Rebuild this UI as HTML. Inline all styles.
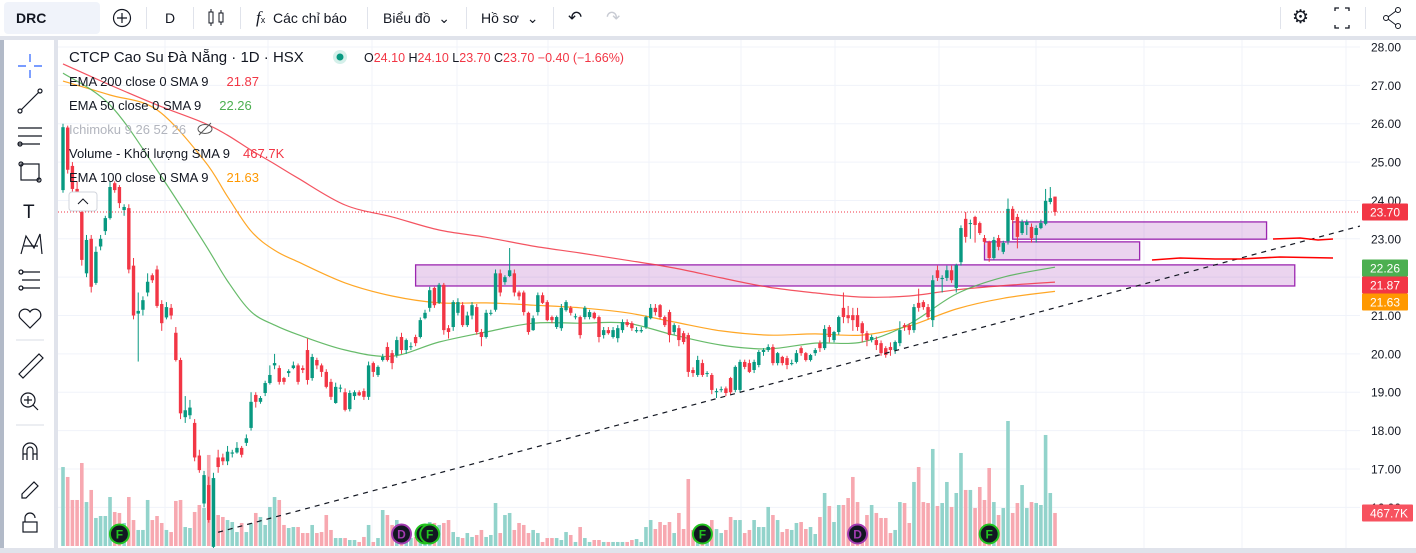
<!DOCTYPE html>
<html><head><meta charset="utf-8"><style>
html,body{margin:0;padding:0;width:1416px;height:548px;overflow:hidden;background:#e0e3eb;font-family:"Liberation Sans","Noto Sans CJK SC",sans-serif;}
#top{position:absolute;left:0;top:0;width:1416px;height:36px;background:#fff;}
#left{position:absolute;left:4px;top:40px;width:50px;height:508px;background:#fff;}
#leftstrip{position:absolute;left:0;top:40px;width:4px;height:508px;background:#b2bac8;}
.tb{position:absolute;top:0;height:36px;line-height:36px;font-size:14px;color:#131722;}
.sep{position:absolute;top:7px;width:1px;height:22px;background:#e0e3eb;}
svg text{font-family:"Liberation Sans","Noto Sans CJK SC",sans-serif;}
</style></head><body>
<div id="top">
 <div class="tb" style="left:4px;top:2px;height:32px;line-height:32px;width:96px;background:#f0f3fa;border-radius:4px;font-weight:bold;padding-left:12px;box-sizing:border-box;">DRC</div>
 <div class="tb" style="left:112px;"><svg width="20" height="36"><circle cx="10" cy="18" r="8.5" fill="none" stroke="#131722" stroke-width="1.2"/><path d="M10 13v10M5 18h10" stroke="#131722" stroke-width="1.2"/></svg></div>
 <div class="sep" style="left:146px"></div>
 <div class="tb" style="left:165px;">D</div>
 <div class="sep" style="left:193px"></div>
 <div class="tb" style="left:206px;"><svg width="20" height="36"><rect x="3" y="12" width="4" height="11" fill="none" stroke="#131722"/><path d="M5 9v3M5 23v3M15 10v3M15 22v3" stroke="#131722"/><rect x="13" y="13" width="4" height="9" fill="none" stroke="#131722"/></svg></div>
 <div class="sep" style="left:240px"></div>
 <div class="tb" style="left:256px;"><span style="font-style:italic;font-family:'Liberation Serif',serif;font-size:17px">f</span><span style="font-size:9px">x</span>&nbsp; Các chỉ báo</div>
 <div class="sep" style="left:367px"></div>
 <div class="tb" style="left:383px;">Biểu đồ &nbsp;⌄</div>
 <div class="sep" style="left:466px"></div>
 <div class="tb" style="left:481px;">Hồ sơ &nbsp;⌄</div>
 <div class="sep" style="left:553px"></div>
 <div class="tb" style="left:568px;font-size:17px">↶</div>
 <div class="tb" style="left:606px;font-size:17px;color:#c8cbd3">↷</div>
 <div class="sep" style="left:1280px"></div>
 <div class="tb" style="left:1292px;font-size:19px">⚙</div>
 <div class="tb" style="left:1332px;"><svg width="20" height="36"><path d="M3 11v-3h4M13 8h4v3M17 25v3h-4M7 28h-4v-3" fill="none" stroke="#131722" stroke-width="1.3"/></svg></div>
 <div class="sep" style="left:1365px"></div>
 <div class="tb" style="left:1382px;"><svg width="20" height="36"><circle cx="16" cy="10" r="2.5" fill="none" stroke="#131722"/><circle cx="4" cy="18" r="2.5" fill="none" stroke="#131722"/><circle cx="16" cy="26" r="2.5" fill="none" stroke="#131722"/><path d="M6 17l8-6M6 19l8 6" stroke="#131722"/></svg></div>
</div>
<div id="leftstrip"></div>
<div id="left">
<svg width="50" height="508" stroke="#131722" fill="none" stroke-width="1.2">
 <g stroke="#2962ff"><path d="M26 14v8M26 30v8M14 26h8M30 26h8"/></g>
 <g><path d="M17 70l18-18"/><circle cx="16" cy="71" r="2"/><circle cx="36" cy="51" r="2"/></g>
 <g><path d="M14 88h24M14 96h24M14 104h22"/><circle cx="16" cy="104" r="2"/></g>
 <g><rect x="17" y="124" width="18" height="16"/><circle cx="17" cy="124" r="2"/><circle cx="35" cy="140" r="2"/></g>
 <text x="19" y="178" font-size="19" fill="#131722" stroke="none" font-family="Liberation Serif">T</text>
 <g><path d="M17 214l5-18 8 12 6-14 2 20M20 206l14 0"/></g>
 <g><path d="M18 232h18M18 240h18M18 248h18"/><circle cx="17" cy="232" r="2"/><circle cx="17" cy="248" r="2"/></g>
 <path d="M26 288l-10-10a5 5 0 0 1 10-6 5 5 0 0 1 10 6z"/>
 <path d="M12 300h28" stroke="#e0e3eb"/>
 <g><path d="M15 334l20-20 4 4-20 20z"/></g>
 <g><circle cx="24" cy="360" r="7"/><path d="M29 365l5 5M24 356v8M20 360h8"/></g>
 <path d="M12 385h28" stroke="#e0e3eb"/>
 <path d="M19 420v-10a7 7 0 0 1 14 0v10M19 414h4M29 414h4M23 420v-10a3 3 0 0 1 6 0v10"/>
 <path d="M18 454l12-12 4 4-12 12h-4z"/>
 <g><rect x="19" y="482" width="14" height="10"/><path d="M21 482v-4a5 5 0 0 1 10 0"/></g>
</svg></div>
<svg id="chart" width="1416" height="548" style="position:absolute;left:0;top:0">
 <rect x="58" y="40" width="1358" height="508" fill="#fff"/>
 <g id="grid"></g>
 <g id="vol"></g>
 <g id="boxes"></g>
 <g id="emas"></g>
 <g id="candles"></g>
 <g id="overlay"></g>
 <g id="axis"></g>
</svg>
<script>
const openP=[24.27,25.9,24.9,24.3,23.7,22.1,23.0,21.85,22.8,23.2,23.54,24.45,24.35,23.75,23.8,22.3,21.05,21.15,21.6,22.05,22.2,21.3,20.95,21.2,20.55,19.84,18.35,18.4,18.2,17.35,16.1,16.58,14.97,17.3,17.3,17.2,17.4,17.43,17.55,17.68,18.07,18.93,18.75,18.98,19.24,19.7,19.63,19.37,19.5,19.63,19.7,19.63,20.1,19.37,19.84,19.7,19.53,19.27,18.72,19.1,19.0,18.56,18.9,19.0,19.03,18.88,19.76,19.45,19.84,20.18,20.02,19.97,20.44,20.1,20.18,20.44,20.44,20.93,21.2,21.72,21.33,21.8,20.67,20.7,21.07,21.27,20.75,21.0,21.22,20.57,20.44,21.05,21.15,22.1,21.87,22.03,22.1,21.6,21.6,21.07,20.62,
21.09,21.53,21.35,20.96,20.7,20.67,21.14,21.2,20.96,20.96,20.96,20.96,21.07,20.96,20.49,20.62,20.44,20.41,20.62,20.83,20.8,20.59,20.59,20.7,20.93,21.2,21.27,20.96,21.09,20.57,20.67,20.54,20.49,19.58,19.45,19.76,19.48,19.45,19.0,19.06,19.1,19.37,19.06,19.06,19.79,19.76,19.58,19.71,20.05,20.1,20.18,19.76,19.92,19.89,19.74,19.79,20.15,20.02,19.84,20.02,20.28,20.15,20.7,20.36,20.57,21.2,21.01,21.01,21.01,20.8,20.54,20.36,20.36,20.28,20.15,20.18,20.1,20.28,20.75,20.75,20.62,21.33,21.35,21.22,20.88,22.18,21.95,21.98,22.18,21.72,22.39,23.52,23.39,23.57,23.41,23.02,22.92,22.5,23.02,22.66,22.94,23.78,23.57,23.15,23.36,23.31,23.1,23.28,23.39,23.96,24.1];
const closeP=[25.91,24.8,24.3,24.1,22.45,22.97,21.75,22.66,23.0,23.54,24.35,24.27,23.93,23.83,22.2,21.0,21.12,21.4,21.88,21.92,21.25,20.8,21.22,21.0,19.84,18.45,18.53,18.6,17.3,16.97,16.84,15.67,16.76,17.05,17.2,17.45,17.43,17.55,17.37,17.8,18.75,18.75,18.85,19.24,19.45,19.76,19.27,19.27,19.55,19.7,19.27,19.58,19.32,19.92,19.7,19.53,19.14,18.88,19.14,19.12,18.54,18.98,19.0,18.92,18.88,19.7,19.53,19.66,19.92,19.84,19.76,20.36,20.1,20.36,20.2,20.28,20.88,21.07,21.66,21.27,21.8,20.62,20.57,21.35,21.35,20.75,21.0,21.27,20.57,20.44,21.07,21.07,22.1,21.6,22.0,22.18,21.6,21.5,21.09,20.57,20.93,
21.53,21.33,20.88,20.88,20.96,21.2,21.35,21.07,20.98,20.49,21.2,21.09,20.93,20.44,20.62,20.54,20.62,20.67,20.83,20.75,20.67,20.62,20.62,20.96,21.2,21.09,20.96,20.75,20.49,20.75,20.36,20.31,19.53,19.5,19.84,19.45,19.5,19.06,19.03,19.08,18.98,19.0,19.66,19.79,19.66,19.53,19.79,20.05,20.1,20.18,19.76,20.02,19.76,19.71,19.76,20.02,20.02,19.84,19.97,20.1,20.15,20.65,20.44,20.57,20.96,20.96,20.93,20.88,20.7,20.54,20.36,20.44,20.23,20.02,19.97,20.1,20.31,20.62,20.7,20.62,21.22,21.2,21.22,20.96,21.92,21.98,21.98,22.18,21.92,22.31,23.28,23.05,23.41,23.36,23.15,22.92,22.5,22.97,22.79,22.89,23.78,23.49,23.05,23.44,23.44,23.02,23.28,23.41,23.99,24.06,23.7];
const highP=[26.0,25.95,25.0,24.5,23.8,23.1,23.1,22.8,23.1,23.6,24.5,24.5,24.4,23.9,23.9,22.5,21.6,21.5,22.1,22.1,22.3,21.4,21.35,21.3,20.7,19.9,18.9,18.8,18.3,17.5,16.95,16.8,16.9,17.5,17.4,17.6,17.5,17.7,17.6,17.9,19.0,19.0,18.9,19.3,19.7,20.0,19.7,19.4,19.6,19.8,19.75,19.7,20.4,20.0,19.9,19.75,19.6,19.35,19.25,19.2,19.1,19.05,19.05,19.05,19.1,19.8,19.8,19.7,20.0,20.3,20.1,20.45,20.55,20.4,20.3,20.5,20.95,21.15,21.75,21.75,21.85,21.85,20.75,21.4,21.45,21.35,21.1,21.35,21.3,20.65,21.15,21.15,22.2,22.2,22.05,22.76,22.2,21.65,21.65,21.1,21.0,
21.6,21.6,21.4,21.0,21.0,21.3,21.4,21.25,21.05,21.0,21.25,21.15,21.1,21.0,20.7,20.7,20.7,20.75,20.9,20.9,20.85,20.7,20.7,21.0,21.3,21.3,21.3,21.0,21.15,20.8,20.75,20.6,20.55,19.65,19.95,19.85,19.55,19.5,19.1,19.15,19.15,19.4,19.7,19.85,19.85,19.85,19.85,20.1,20.15,20.25,20.25,20.05,19.95,19.95,19.85,20.1,20.2,20.05,20.0,20.15,20.35,20.75,20.75,20.6,21.0,21.6,21.25,21.2,21.2,20.85,20.6,20.5,20.45,20.35,20.2,20.3,20.35,20.85,20.8,20.8,21.3,21.7,21.4,21.3,22.05,22.3,22.05,22.3,22.3,22.35,23.35,23.7,23.5,23.6,23.45,23.1,22.95,23.05,23.1,22.95,24.05,23.85,23.65,23.5,23.5,23.4,23.35,23.5,24.3,24.35,24.1];
const lowP=[24.2,24.7,24.2,23.9,22.3,22.0,21.6,21.8,22.7,23.1,23.5,24.2,23.8,23.6,22.1,20.9,19.8,21.0,21.5,21.85,21.2,20.6,20.9,20.9,19.8,18.3,18.2,18.3,17.2,16.9,16.0,15.6,14.9,16.9,17.1,17.1,17.3,17.4,17.3,17.6,18.0,18.6,18.7,18.9,19.2,19.6,19.2,19.2,19.4,19.6,19.2,19.5,19.2,19.3,19.6,19.4,19.1,18.8,18.7,19.0,18.5,18.5,18.8,18.9,18.8,18.8,19.4,19.4,19.8,19.8,19.6,19.9,20.0,20.0,20.1,20.2,20.4,20.9,21.1,21.2,21.3,20.5,20.4,20.6,21.0,20.7,20.7,20.9,20.5,20.2,20.4,21.0,21.1,21.5,21.8,22.0,21.5,21.4,21.0,20.5,20.6,
21.0,21.3,20.85,20.8,20.65,20.6,21.1,21.0,20.9,20.4,20.9,20.9,20.9,20.3,20.4,20.5,20.4,20.3,20.55,20.7,20.6,20.55,20.55,20.65,20.9,21.0,20.9,20.7,20.3,20.5,20.2,20.25,19.4,19.4,19.4,19.4,19.4,18.95,18.85,19.0,18.9,18.95,19.0,19.0,19.6,19.5,19.5,19.65,19.95,20.05,19.7,19.7,19.7,19.6,19.7,19.75,19.95,19.8,19.8,19.95,20.05,20.1,20.3,20.3,20.5,20.8,20.8,20.6,20.6,20.3,20.2,20.3,20.1,19.95,19.9,19.95,20.0,20.2,20.6,20.5,20.55,21.1,21.15,20.9,20.7,21.9,21.6,21.9,21.85,21.6,22.3,22.9,23.0,22.9,23.1,22.85,22.4,22.45,22.7,22.6,22.85,23.4,22.75,23.1,23.1,22.9,22.9,23.25,23.35,23.9,23.6];
const volumeK=[1119,978,652,652,1176,623,794,397,425,425,694,482,468,326,694,368,227,227,652,368,425,326,227,198,638,652,269,255,482,581,538,1290,964,439,411,368,340,198,326,198,326,468,411,298,553,694,652,298,255,269,269,184,184,298,184,198,439,227,113,113,113,85,85,57,128,298,57,113,510,439,298,368,198,156,113,128,255,156,340,326,298,326,368,198,128,113,184,128,156,227,128,156,609,184,439,468,227,326,298,184,227,
184,57,113,113,113,85,198,156,57,269,113,57,85,85,57,57,57,57,57,57,85,99,57,269,368,241,340,298,340,184,468,241,949,227,241,269,184,368,241,184,227,411,368,368,184,227,368,269,269,553,439,368,198,241,227,326,340,241,269,170,411,751,567,340,581,581,680,978,623,227,439,581,468,397,397,184,227,623,609,326,907,1119,623,609,1375,567,609,907,553,751,1318,794,794,538,836,652,1105,623,439,538,1771,468,609,864,538,623,609,581,1573,751,468];
const emaIdx=[0,10,20,30,35,40,45,50,60,70,80,90,100,110,120,130,140,150,160,170,180,190,200,211];
const ema200=[27.56,27.01,26.49,26.02,25.7,25.31,24.95,24.58,23.88,23.57,23.23,23.04,22.81,22.63,22.44,22.24,21.98,21.74,21.59,21.48,21.51,21.67,21.78,21.87];
const ema100=[27.11,26.75,26.36,25.05,24.1,23.2,22.7,22.4,21.85,21.51,21.33,21.33,21.27,21.2,21.07,20.83,20.6,20.49,20.52,20.49,20.73,21.17,21.45,21.63];
const ema50=[27.32,26.49,24.79,22.9,21.9,21.1,20.75,20.5,20.1,19.94,20.31,20.57,20.8,20.8,20.8,20.49,20.23,20.13,20.28,20.31,20.78,21.56,22.0,22.26];
const priceTicks=[28,27,26,25,24,23,21,20,19,18,17,16];
const boxes=[{i0:75,i1:262,top:22.32,bot:21.77},{i0:196,i1:229,top:22.92,bot:22.45},{i0:202,i1:256,top:23.44,bot:22.99}];
const events=[{i:12,t:"F"},{i:72,t:"D"},{i:77,t:"F"},{i:78,t:"F"},{i:136,t:"F"},{i:169,t:"D"},{i:197,t:"F"}];
const trendA={i:33,p:15.35}, trendB={i:211,p:21.2};

const NS="http://www.w3.org/2000/svg";
const X0=63, DX=(1055-63)/211;
function xOf(i){return X0+i*DX;}
function yOf(p){return 47+(28-p)*38.36;}
const VBASE=546, VMAX=1771, VH=125;
function vh(v){return v/VMAX*VH;}
function mk(parent,tag,attrs){const e=document.createElementNS(NS,tag);for(const k in attrs)e.setAttribute(k,attrs[k]);parent.appendChild(e);return e;}
const G=id=>document.getElementById(id);
const vgx=[165,268,372,457,548,649,741,835,939,1036,1144,1242,1346];
vgx.forEach(x=>mk(G('grid'),'line',{x1:x,x2:x,y1:40,y2:548,stroke:'#f0f3fa'}));
priceTicks.forEach(p=>mk(G('grid'),'line',{x1:58,x2:1360,y1:yOf(p),y2:yOf(p),stroke:'#f0f3fa'}));
mk(G('grid'),'line',{x1:58,x2:1360,y1:yOf(22),y2:yOf(22),stroke:'#f0f3fa'});
volumeK.forEach((v,i)=>{
 const up=closeP[i]>=openP[i];
 const r=mk(G('vol'),'rect',{x:xOf(i)-1.8,y:VBASE-vh(v),width:3.6,height:vh(v),fill:up?'#92d3cb':'#f7a8b0'});
 
 
});
boxes.forEach(b=>{
 const r=mk(G('boxes'),'rect',{x:xOf(b.i0),y:yOf(b.top),width:xOf(b.i1)-xOf(b.i0),height:yOf(b.bot)-yOf(b.top),fill:'rgba(156,39,176,0.2)',stroke:'#9c27b0','stroke-width':1.3});
 
 
});
function smoothPath(pts){
 let d='M'+pts[0][0].toFixed(1)+' '+pts[0][1].toFixed(1);
 for(let k=0;k<pts.length-1;k++){
  const p0=pts[Math.max(k-1,0)],p1=pts[k],p2=pts[k+1],p3=pts[Math.min(k+2,pts.length-1)];
  const c1=[p1[0]+(p2[0]-p0[0])/6,p1[1]+(p2[1]-p0[1])/6],c2=[p2[0]-(p3[0]-p1[0])/6,p2[1]-(p3[1]-p1[1])/6];
  d+='C'+c1[0].toFixed(1)+' '+c1[1].toFixed(1)+' '+c2[0].toFixed(1)+' '+c2[1].toFixed(1)+' '+p2[0].toFixed(1)+' '+p2[1].toFixed(1);
 }
 return d;
}
[[ema200,'#f23645','ema-200-line'],[ema100,'#ff9800','ema-100-line'],[ema50,'#4caf50','ema-50-line']].forEach(([arr,col,nm])=>{
 const pts=arr.map((p,k)=>[xOf(emaIdx[k]),yOf(p)]);
 const pth=mk(G('emas'),'path',{d:smoothPath(pts),fill:'none',stroke:col,'stroke-width':1.2,'stroke-opacity':0.85});
 
 
});
closeP.forEach((c,i)=>{
 const o=openP[i],h=highP[i],l=lowP[i],up=c>=o,col=up?'#089981':'#f23645',x=xOf(i);
 const g=mk(G('candles'),'g',{});
 
 
 mk(g,'line',{x1:x,x2:x,y1:yOf(h),y2:Math.min(yOf(l),548),stroke:col,'stroke-width':1});
 const yt=yOf(Math.max(o,c)),yb=yOf(Math.min(o,c));
 mk(g,'rect',{x:x-1.7,y:yt,width:3.4,height:Math.max(yb-yt,1),fill:col});
});
const ov=G('overlay');
const last=closeP[closeP.length-1];
const lp=mk(ov,'line',{x1:58,x2:1360,y1:yOf(last),y2:yOf(last),stroke:'#f23645','stroke-dasharray':'1 2'});


const slope=(trendB.p-trendA.p)/(trendB.i-trendA.i);
const iEnd=(1360-X0)/DX;
const tl=mk(ov,'line',{x1:xOf(trendA.i),y1:yOf(trendA.p),x2:1360,y2:yOf(trendA.p+slope*(iEnd-trendA.i)),stroke:'#131722','stroke-dasharray':'5 5','stroke-width':1.2});


const h1=mk(ov,'path',{d:'M1273 239 L1300 238 L1318 240 L1333 239',stroke:'#f00','stroke-width':1.6,fill:'none'});


const h2=mk(ov,'path',{d:'M1152 260 L1180 258 L1215 259 L1240 259 L1280 257 L1333 258',stroke:'#f00','stroke-width':1.6,fill:'none'});


events.forEach(ev=>{
 const x=xOf(ev.i),col=ev.t==='F'?'#22c31f':'#a23bb0';
 const g=mk(ov,'g',{});
 
 
 mk(g,'circle',{cx:x,cy:534,r:9.5,fill:'#131722',stroke:col,'stroke-width':2});
 const t=mk(g,'text',{x:x,y:538.5,'text-anchor':'middle','font-size':12,'font-weight':'bold',fill:col});t.textContent=ev.t;
});
const cb=mk(ov,'rect',{x:69,y:192,width:28,height:19,rx:3,fill:'#fff',stroke:'#d1d4dc'});


mk(ov,'path',{d:'M78 204l5-5 5 5',stroke:'#131722',fill:'none'});
const leg=[
 {y:62,parts:[['CTCP Cao Su Đà Nẵng · 1D · HSX','#131722',15,0]],name:'chart-title'},
 {y:86,parts:[['EMA 200 close 0 SMA 9','#131722',13,0],['21.87','#f23645',13,18]],name:'legend-ema-200'},
 {y:110,parts:[['EMA 50 close 0 SMA 9','#131722',13,0],['22.26','#4caf50',13,18]],name:'legend-ema-50'},
 {y:134,parts:[['Ichimoku 9 26 52 26','#b2b5be',13,0]],name:'legend-ichimoku'},
 {y:158,parts:[['Volume - Khối lượng SMA 9','#131722',13,0],['467.7K','#f23645',13,13]],name:'legend-volume'},
 {y:182,parts:[['EMA 100 close 0 SMA 9','#131722',13,0],['21.63','#ff9800',13,18]],name:'legend-ema-100'}];
leg.forEach(L=>{
 const t=mk(ov,'text',{x:69,y:L.y});
 
 
 L.parts.forEach(p=>{const s=mk(t,'tspan',{fill:p[1],'font-size':p[2],dx:p[3]});s.textContent=p[0];});
});
mk(ov,'circle',{cx:340,cy:57,r:7,fill:'#d5f0ea'});mk(ov,'circle',{cx:340,cy:57,r:3.5,fill:'#089981'});
const ohlc=mk(ov,'text',{x:364,y:62,'font-size':12.5,'xml:space':'preserve'});


[['O','#131722'],['24.10 ','#f23645'],['H','#131722'],['24.10 ','#f23645'],['L','#131722'],['23.70 ','#f23645'],['C','#131722'],['23.70 −0.40 (−1.66%)','#f23645']].forEach(p=>{const s=mk(ohlc,'tspan',{fill:p[1]});s.textContent=p[0];});
const eye=mk(ov,'g',{});
mk(eye,'ellipse',{cx:205,cy:129,rx:7,ry:4.5,fill:'none',stroke:'#555'});mk(eye,'line',{x1:199,y1:135,x2:211,y2:123,stroke:'#555'});
const ax=G('axis');
mk(ax,'rect',{x:1360,y:40,width:56,height:508,fill:'#fff'});
priceTicks.forEach(p=>{const t=mk(ax,'text',{x:1371,y:yOf(p)+4.5,'font-size':12,fill:'#131722'});t.textContent=p.toFixed(2);
 
 });
function tag(y,txt,bg,w,name){const g=mk(ax,'g',{});
 
 
 mk(g,'rect',{x:1362,y:y-8.5,width:w,height:17,fill:bg,rx:1});const t=mk(g,'text',{x:1370,y:y+4.5,'font-size':12,fill:'#fff'});t.textContent=txt;}
tag(yOf(last),last.toFixed(2),'#f23645',46,'last-price-label');
tag(268,'22.26','#4caf50',46,'ema-50-price-label');
tag(285,'21.87','#f23645',46,'ema-200-price-label');
tag(302,'21.63','#ff9800',46,'ema-100-price-label');
tag(VBASE-vh(volumeK[volumeK.length-1]),'467.7K','#f7525f',51,'volume-label');
</script>
</body></html>
